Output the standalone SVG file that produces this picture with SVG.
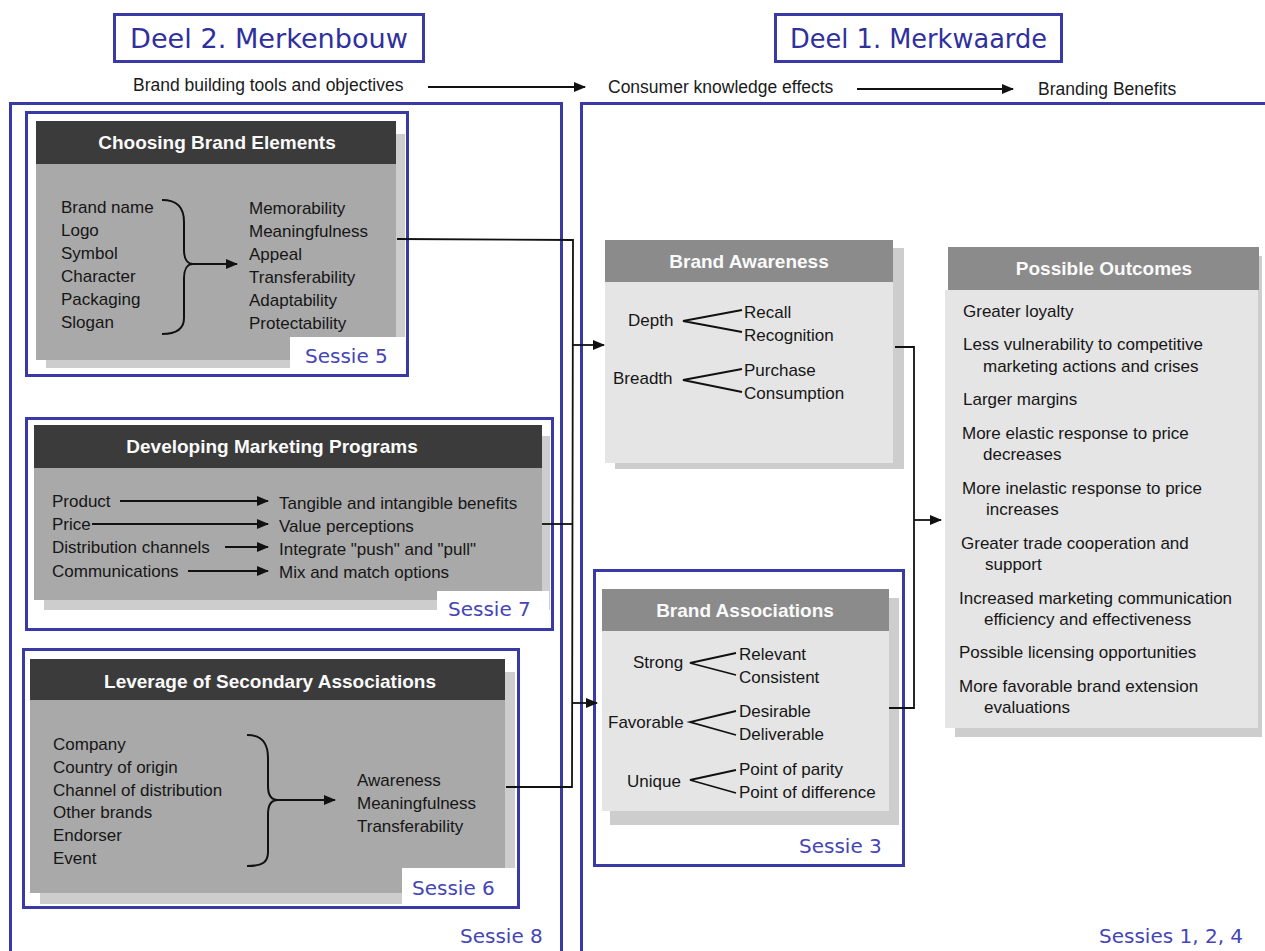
<svg xmlns="http://www.w3.org/2000/svg" width="1265" height="951" viewBox="0 0 1265 951">
  <defs>
    <marker id="arrow" viewBox="0 0 12 10" refX="11" refY="5" markerWidth="12" markerHeight="10" markerUnits="userSpaceOnUse" orient="auto">
      <path d="M0,0 L12,5 L0,10 Z" fill="#111"/>
    </marker>
    <style>
      .frame { fill: none; stroke: #3a3aa6; stroke-width: 3; }
      .deel { font-family: "DejaVu Sans", sans-serif; font-size: 26.5px; fill: #30309c; }
      .sessie { font-family: "DejaVu Sans", sans-serif; font-size: 20px; fill: #4545b5; }
      .flow { font-family: "Liberation Sans", Arial, sans-serif; font-size: 17.5px; fill: #1a1a1a; }
      .txt { font-family: "Liberation Sans", Arial, sans-serif; font-size: 17px; fill: #161616; }
      .hd { font-family: "Liberation Sans", Arial, sans-serif; font-size: 19px; font-weight: bold; fill: #fafafa; text-anchor: middle; }
      .hdDark { fill: #3b3b3b; }
      .hdMid { fill: #8b8b8b; }
      .bodyDark { fill: #a9a9a9; }
      .bodyLight { fill: #e5e5e5; }
      .shadow { fill: #cdcdcd; }
      .patch { fill: #ffffff; }
      .line { fill: none; stroke: #111; stroke-width: 2; }
      .thin { fill: none; stroke: #111; stroke-width: 1.8; }
    </style>
  </defs>

  <rect width="1265" height="951" fill="#ffffff"/>

  <!-- part titles -->
  <g id="title-deel2">
    <rect x="114.5" y="14.5" width="309" height="47" class="frame"/>
    <text x="130" y="48" class="deel" textLength="278" lengthAdjust="spacingAndGlyphs">Deel 2. Merkenbouw</text>
  </g>
  <g id="title-deel1">
    <rect x="775.5" y="14.5" width="286" height="47" class="frame"/>
    <text x="790" y="48" class="deel" textLength="257" lengthAdjust="spacingAndGlyphs">Deel 1. Merkwaarde</text>
  </g>

  <!-- flow headings -->
  <g id="flow-headings">
    <text x="133" y="91" class="flow">Brand building tools and objectives</text>
    <text x="608" y="93" class="flow">Consumer knowledge effects</text>
    <text x="1038" y="95" class="flow">Branding Benefits</text>
  </g>

  <!-- outer frames -->
  <g id="frame-left">
    <rect x="10.5" y="103.5" width="551" height="880" class="frame"/>
    <text x="460" y="943" class="sessie">Sessie 8</text>
  </g>
  <g id="frame-right">
    <rect x="581.5" y="103.5" width="720" height="880" class="frame"/>
    <text x="1099" y="943" class="sessie">Sessies 1, 2, 4</text>
  </g>

  <!-- Choosing Brand Elements -->
  <g id="choosing-brand-elements">
    <rect x="46" y="134" width="359" height="234" class="shadow"/>
    <rect x="36" y="164" width="360" height="196" class="bodyDark"/>
    <rect x="36" y="121" width="360" height="43" class="hdDark"/>
    <text x="217" y="149" class="hd">Choosing Brand Elements</text>
    <text x="61" y="213" class="txt">Brand name</text>
    <text x="61" y="236" class="txt">Logo</text>
    <text x="61" y="259" class="txt">Symbol</text>
    <text x="61" y="282" class="txt">Character</text>
    <text x="61" y="305" class="txt">Packaging</text>
    <text x="61" y="328" class="txt">Slogan</text>
    <path d="M162,200 C178,200 184,208 184,222 L184,250 C184,258 187,264 193,264 C187,264 184,270 184,278 L184,318 C184,328 178,334 162,334" class="line"/>
    <line x1="193" y1="264" x2="237" y2="264" class="line" marker-end="url(#arrow)"/>
    <text x="249" y="214" class="txt">Memorability</text>
    <text x="249" y="237" class="txt">Meaningfulness</text>
    <text x="249" y="260" class="txt">Appeal</text>
    <text x="249" y="283" class="txt">Transferability</text>
    <text x="249" y="306" class="txt">Adaptability</text>
    <text x="249" y="329" class="txt">Protectability</text>
    <rect x="290" y="337" width="116" height="37" class="patch"/>
    <rect x="26.5" y="112.5" width="381" height="263" class="frame"/>
    <text x="305" y="363" class="sessie">Sessie 5</text>
  </g>

  <!-- Developing Marketing Programs -->
  <g id="developing-marketing-programs">
    <rect x="44" y="436" width="506" height="174" class="shadow"/>
    <rect x="34" y="468" width="508" height="132" class="bodyDark"/>
    <rect x="34" y="425" width="508" height="43" class="hdDark"/>
    <text x="272" y="453" class="hd">Developing Marketing Programs</text>
    <text x="52" y="507" class="txt">Product</text>
    <text x="52" y="530" class="txt">Price</text>
    <text x="52" y="553" class="txt">Distribution channels</text>
    <text x="52" y="577" class="txt">Communications</text>
    <line x1="120" y1="501" x2="268" y2="501" class="thin" marker-end="url(#arrow)"/>
    <line x1="92" y1="524" x2="268" y2="524" class="thin" marker-end="url(#arrow)"/>
    <line x1="225" y1="547" x2="268" y2="547" class="thin" marker-end="url(#arrow)"/>
    <line x1="188" y1="571" x2="268" y2="571" class="thin" marker-end="url(#arrow)"/>
    <text x="279" y="509" class="txt">Tangible and intangible benefits</text>
    <text x="279" y="532" class="txt">Value perceptions</text>
    <text x="279" y="555" class="txt">Integrate "push" and "pull"</text>
    <text x="279" y="578" class="txt">Mix and match options</text>
    <rect x="437" y="591" width="112" height="36" class="patch"/>
    <rect x="26.5" y="418.5" width="526" height="211" class="frame"/>
    <text x="448" y="616" class="sessie">Sessie 7</text>
  </g>

  <!-- Leverage of Secondary Associations -->
  <g id="leverage-secondary-associations">
    <rect x="40" y="672" width="475" height="232" class="shadow"/>
    <rect x="30" y="700" width="475" height="193" class="bodyDark"/>
    <rect x="30" y="659" width="475" height="41" class="hdDark"/>
    <text x="270" y="688" class="hd">Leverage of Secondary Associations</text>
    <text x="53" y="750" class="txt">Company</text>
    <text x="53" y="773" class="txt">Country of origin</text>
    <text x="53" y="796" class="txt">Channel of distribution</text>
    <text x="53" y="818" class="txt">Other brands</text>
    <text x="53" y="841" class="txt">Endorser</text>
    <text x="53" y="864" class="txt">Event</text>
    <path d="M247,735 C263,735 268,744 268,758 L268,786 C268,794 271,800 278,800 C271,800 268,806 268,814 L268,852 C268,862 263,866 247,866" class="line"/>
    <line x1="278" y1="800" x2="335" y2="800" class="line" marker-end="url(#arrow)"/>
    <text x="357" y="786" class="txt">Awareness</text>
    <text x="357" y="809" class="txt">Meaningfulness</text>
    <text x="357" y="832" class="txt">Transferability</text>
    <rect x="402" y="868" width="114" height="38" class="patch"/>
    <rect x="23.5" y="649.5" width="495" height="258" class="frame"/>
    <text x="412" y="895" class="sessie">Sessie 6</text>
  </g>

  <!-- Brand Awareness -->
  <g id="brand-awareness">
    <rect x="615" y="248" width="289" height="221" class="shadow"/>
    <rect x="605" y="282" width="288" height="181" class="bodyLight"/>
    <rect x="605" y="240" width="288" height="42" class="hdMid"/>
    <text x="749" y="268" class="hd">Brand Awareness</text>
    <text x="628" y="326" class="txt">Depth</text>
    <polyline points="742,310 683,321 742,332" class="thin"/>
    <text x="744" y="318" class="txt">Recall</text>
    <text x="744" y="341" class="txt">Recognition</text>
    <text x="613" y="384" class="txt">Breadth</text>
    <polyline points="742,369 683,380 742,392" class="thin"/>
    <text x="744" y="376" class="txt">Purchase</text>
    <text x="744" y="399" class="txt">Consumption</text>
  </g>

  <!-- Brand Associations -->
  <g id="brand-associations">
    <rect x="610" y="598" width="289" height="227" class="shadow"/>
    <rect x="602" y="631" width="287" height="180" class="bodyLight"/>
    <rect x="602" y="589" width="287" height="42" class="hdMid"/>
    <text x="745" y="617" class="hd">Brand Associations</text>
    <text x="633" y="668" class="txt">Strong</text>
    <polyline points="736,653 690,663 736,675" class="thin"/>
    <text x="739" y="660" class="txt">Relevant</text>
    <text x="739" y="683" class="txt">Consistent</text>
    <text x="608" y="728" class="txt">Favorable</text>
    <polyline points="736,711 690,722 736,735" class="thin"/>
    <text x="739" y="717" class="txt">Desirable</text>
    <text x="739" y="740" class="txt">Deliverable</text>
    <text x="627" y="787" class="txt">Unique</text>
    <polyline points="736,770 690,780 736,793" class="thin"/>
    <text x="739" y="775" class="txt">Point of parity</text>
    <text x="739" y="798" class="txt">Point of difference</text>
    <rect x="594.5" y="570.5" width="309" height="295" class="frame"/>
    <text x="799" y="853" class="sessie">Sessie 3</text>
  </g>

  <!-- Possible Outcomes -->
  <g id="possible-outcomes">
    <rect x="955" y="256" width="307" height="481" class="shadow"/>
    <rect x="945" y="290" width="313" height="438" class="bodyLight"/>
    <rect x="948" y="247" width="311" height="43" class="hdMid"/>
    <text x="1104" y="275" class="hd">Possible Outcomes</text>
    <text x="963" y="317" class="txt">Greater loyalty</text>
    <text x="963" y="350" class="txt">Less vulnerability to competitive</text>
    <text x="983" y="372" class="txt">marketing actions and crises</text>
    <text x="963" y="405" class="txt">Larger margins</text>
    <text x="962" y="439" class="txt">More elastic response to price</text>
    <text x="983" y="460" class="txt">decreases</text>
    <text x="962" y="494" class="txt">More inelastic response to price</text>
    <text x="986" y="515" class="txt">increases</text>
    <text x="961" y="549" class="txt">Greater trade cooperation and</text>
    <text x="985" y="570" class="txt">support</text>
    <text x="959" y="604" class="txt">Increased marketing communication</text>
    <text x="984" y="625" class="txt">efficiency and effectiveness</text>
    <text x="959" y="658" class="txt">Possible licensing opportunities</text>
    <text x="959" y="692" class="txt">More favorable brand extension</text>
    <text x="984" y="713" class="txt">evaluations</text>
  </g>

  <!-- connectors -->
  <g id="connectors">
    <line x1="428" y1="87" x2="585" y2="87" class="thin" marker-end="url(#arrow)"/>
    <line x1="857" y1="89" x2="1013" y2="89" class="thin" marker-end="url(#arrow)"/>
    <polyline points="397,239 573,240 572,787 506,787" class="thin"/>
    <line x1="542" y1="524" x2="572" y2="524" class="thin"/>
    <line x1="573" y1="345" x2="604" y2="345" class="thin" marker-end="url(#arrow)"/>
    <line x1="572" y1="703" x2="597" y2="703" class="thin" marker-end="url(#arrow)"/>
    <polyline points="895,347 914,347 914,708 889,708" class="thin"/>
    <line x1="914" y1="520" x2="941" y2="520" class="thin" marker-end="url(#arrow)"/>
  </g>
</svg>
